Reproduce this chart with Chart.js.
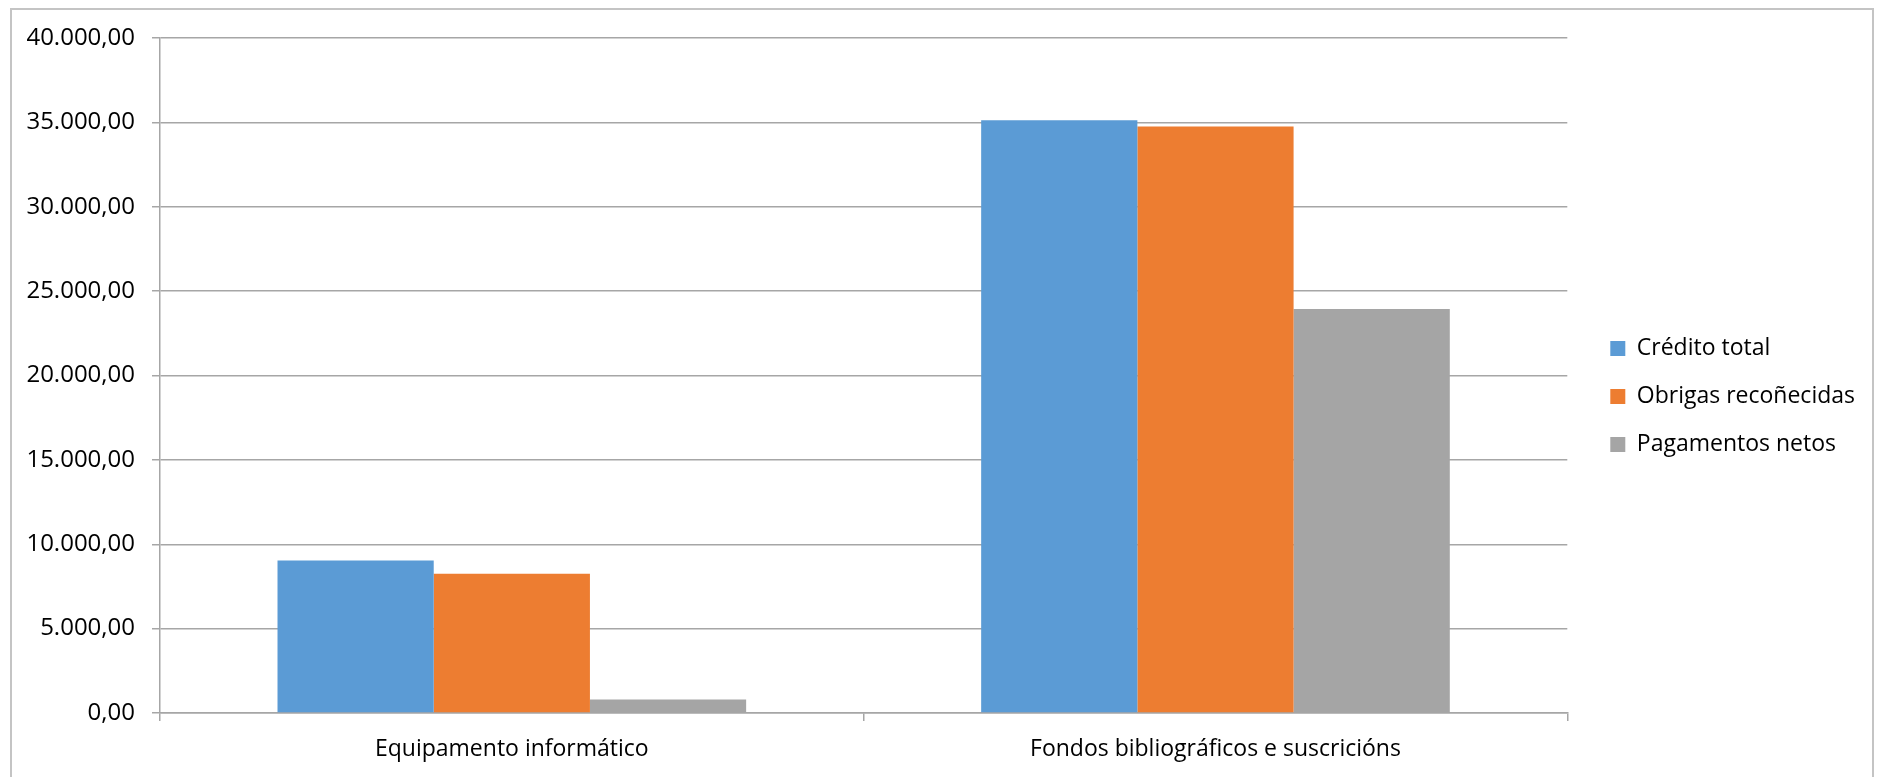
<!DOCTYPE html>
<html>
<head>
<meta charset="utf-8">
<script src="https://cdn.jsdelivr.net/npm/chart.js@4"></script>
<style>
  html, body { margin: 0; padding: 0; background: #fff; overflow: hidden; }
  #frame {
    position: absolute; left: 10px; top: 8px; width: 1864px; height: 800px;
    border: 2px solid #c4c4c4; box-sizing: border-box;
  }
  #wrap { position: absolute; left: 0; top: 0; width: 1878px; height: 777px; }
</style>
</head>
<body>
<div id="frame"></div>
<div id="wrap"><canvas id="chart"></canvas></div>
<script>
const categories = ["Equipamento informático", "Fondos bibliográficos e suscricións"];
const seriesNames = ["Crédito total", "Obrigas recoñecidas", "Pagamentos netos"];
const creditoTotal = [9040, 35120];
const obrigasRecoñecidas = [8255, 34760];
const pagamentosNetos = [805, 23940];
const yTicks = [0, 5000, 10000, 15000, 20000, 25000, 30000, 35000, 40000];
const yTickLabels = ["0,00", "5.000,00", "10.000,00", "15.000,00", "20.000,00",
  "25.000,00", "30.000,00", "35.000,00", "40.000,00"];

const colors = ["#5B9BD5", "#ED7D31", "#A5A5A5"];
const FONT = "'Open Sans', sans-serif";

// the legend sits a bit further right and higher than Chart.js puts it
const legendNudge = {
  id: "legendNudge",
  afterLayout(chart) {
    const lg = chart.legend;
    lg.left = chart.chartArea.right + 18;
    lg.right = chart.width;
    lg.top -= 11;
    lg.bottom -= 11;
  },
};

new Chart(document.getElementById("chart"), {
  type: "bar",
  data: {
    labels: categories,
    datasets: [creditoTotal, obrigasRecoñecidas, pagamentosNetos].map((data, i) => ({
      label: seriesNames[i],
      data,
      backgroundColor: colors[i],
      borderWidth: 0,
      categoryPercentage: 0.666,
      barPercentage: 1,
    })),
  },
  plugins: [legendNudge],
  options: {
    responsive: true,
    maintainAspectRatio: false,
    animation: false,
    layout: { padding: { top: 38, left: 10, right: 31, bottom: 0 } },
    plugins: {
      tooltip: { enabled: false },
      legend: {
        position: "right",
        labels: {
          font: { family: FONT, size: 23 },
          color: "#000",
          boxWidth: 15,
          boxHeight: 15,
          padding: 25,
        },
      },
    },
    scales: {
      x: {
        grid: {
          display: true,
          drawOnChartArea: false,
          drawTicks: true,
          tickLength: 8,
          color: "#a6a6a6",
          lineWidth: 1.5,
        },
        border: { display: true, color: "#a6a6a6", width: 1.5 },
        ticks: {
          font: { family: FONT, size: 23 },
          color: "#000",
          padding: 15,
          maxRotation: 0,
        },
        afterFit(scale) { scale.height = 64; },
      },
      y: {
        min: 0,
        max: 40000,
        afterBuildTicks(scale) { scale.ticks = yTicks.map(v => ({ value: v })); },
        grid: {
          color: "#a6a6a6",
          lineWidth: 1.5,
          tickLength: 8,
        },
        border: { display: true, color: "#a6a6a6", width: 1.5 },
        ticks: {
          font: { family: FONT, size: 24 },
          color: "#000",
          padding: 17,
          callback: (v) => yTickLabels[yTicks.indexOf(v)],
        },
        afterFit(scale) { scale.width = 150; },
      },
    },
  },
});
</script>
</body>
</html>
